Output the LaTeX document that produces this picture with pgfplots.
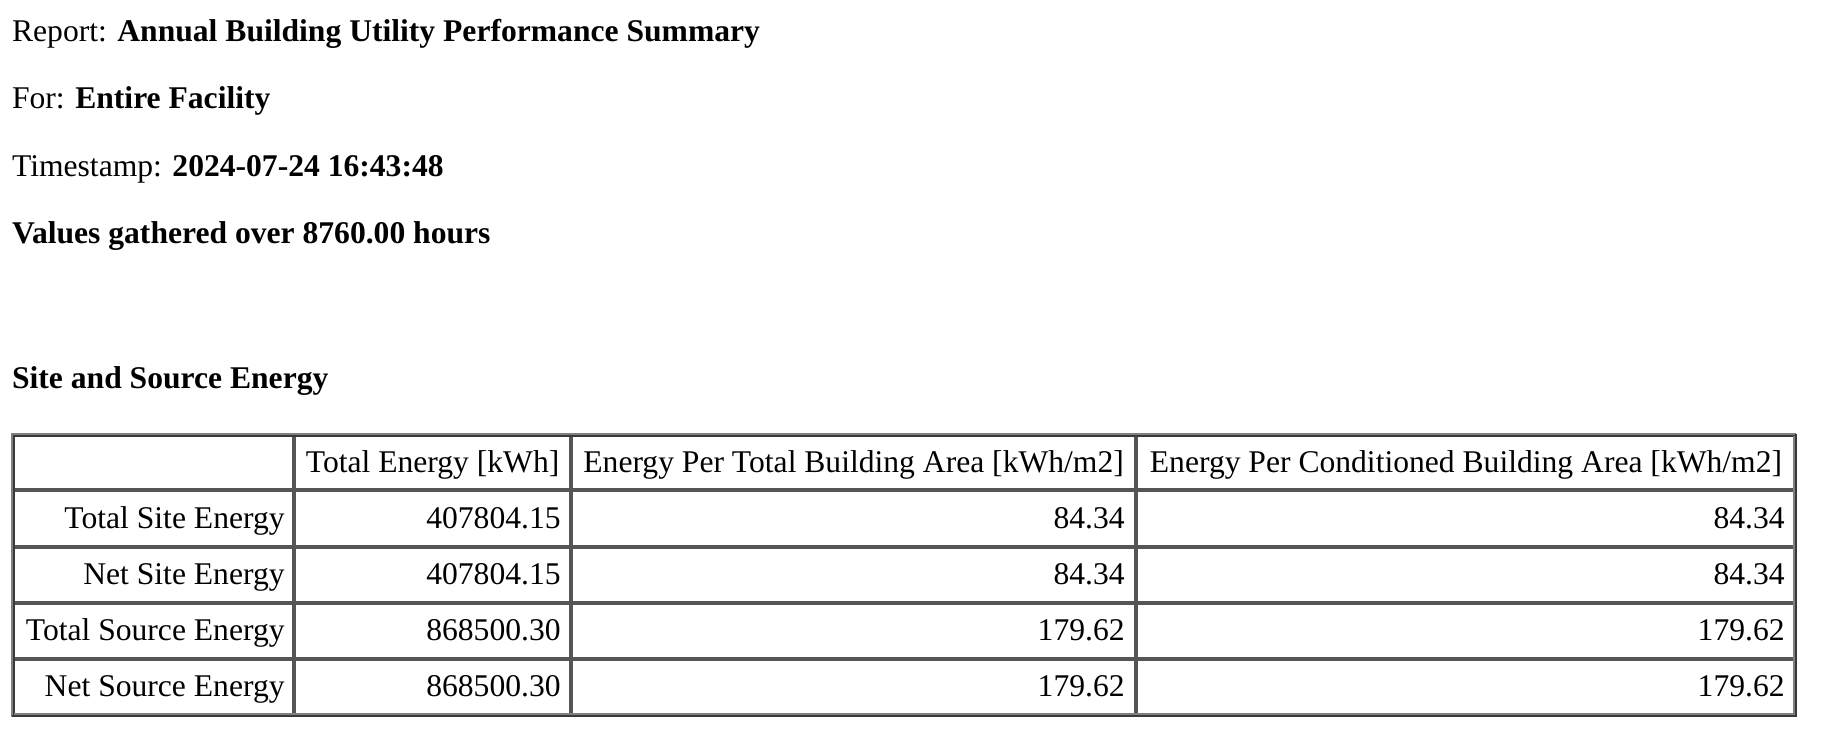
\documentclass[border=0pt]{standalone}
\usepackage{pgfplots}
\pgfplotsset{compat=1.18}
\usepackage{fontspec}
\setmainfont{Liberation Serif}
\definecolor{lightborder}{HTML}{808080}
\definecolor{darkborder}{HTML}{3A3A3A}
\definecolor{midborder}{HTML}{555555}
\begin{document}
\begin{tikzpicture}[font=\fontsize{15.8pt}{19pt}\selectfont]
\begin{axis}[
  scale only axis,
  width=915.5pt, height=373pt,
  xmin=0, xmax=1831, ymin=0, ymax=746,
  y dir=reverse,
  hide axis,
  clip=false,
  every node near coord/.append style={anchor=base east, inner sep=0pt, font=\fontsize{15.8pt}{19pt}\selectfont, text=black},
]
% bounding box
\path (axis cs:0,0) rectangle (axis cs:1831,746);
% header texts
\node[anchor=base west, inner sep=0pt] at (axis cs:11.7,41) {Report: \textbf{Annual Building Utility Performance Summary}};
\node[anchor=base west, inner sep=0pt] at (axis cs:11.7,108) {For: \textbf{Entire Facility}};
\node[anchor=base west, inner sep=0pt] at (axis cs:11.7,176) {Timestamp: \textbf{2024-07-24 16:43:48}};
\node[anchor=base west, inner sep=0pt] at (axis cs:11.7,243) {\textbf{Values gathered over 8760.00 hours}};
\node[anchor=base west, inner sep=0pt] at (axis cs:11.7,388) {\textbf{Site and Source Energy}};
% interior grid lines
\addplot[midborder, line width=2pt] coordinates {(13,490) (1795,490)};
\addplot[midborder, line width=2pt] coordinates {(13,546.5) (1795,546.5)};
\addplot[midborder, line width=2pt] coordinates {(13,602.5) (1795,602.5)};
\addplot[midborder, line width=2pt] coordinates {(13,658.6) (1795,658.6)};
\addplot[midborder, line width=2pt] coordinates {(294.3,435) (294.3,715)};
\addplot[midborder, line width=2pt] coordinates {(571,435) (571,715)};
\addplot[midborder, line width=2pt] coordinates {(1136.2,435) (1136.2,715)};
% outer border (two-tone)
\addplot[lightborder, line width=1pt] coordinates {(12,717) (12,434) (1796,434)};
\addplot[darkborder, line width=1pt] coordinates {(14,716) (14,436) (1795,436)};
\addplot[darkborder, line width=1pt] coordinates {(12,716) (1796,716) (1796,434)};
\addplot[lightborder, line width=1pt] coordinates {(14,714) (1794,714) (1794,436)};
% column headers
\node[anchor=base, inner sep=0pt] at (axis cs:432.6,472) {Total Energy [kWh]};
\node[anchor=base, inner sep=0pt] at (axis cs:853.6,472) {Energy Per Total Building Area [kWh/m2]};
\node[anchor=base, inner sep=0pt] at (axis cs:1466,472) {Energy Per Conditioned Building Area [kWh/m2]};
% row labels
\node[anchor=base east, inner sep=0pt] at (axis cs:285,528) {Total Site Energy};
\node[anchor=base east, inner sep=0pt] at (axis cs:285,584) {Net Site Energy};
\node[anchor=base east, inner sep=0pt] at (axis cs:285,640) {Total Source Energy};
\node[anchor=base east, inner sep=0pt] at (axis cs:285,696) {Net Source Energy};
% values
\addplot[draw=none, mark=none, nodes near coords, point meta=explicit symbolic]
  coordinates {(561,528)[407804.15] (561,584)[407804.15] (561,640)[868500.30] (561,696)[868500.30]};
\addplot[draw=none, mark=none, nodes near coords, point meta=explicit symbolic]
  coordinates {(1125,528)[84.34] (1125,584)[84.34] (1125,640)[179.62] (1125,696)[179.62]};
\addplot[draw=none, mark=none, nodes near coords, point meta=explicit symbolic]
  coordinates {(1785,528)[84.34] (1785,584)[84.34] (1785,640)[179.62] (1785,696)[179.62]};
\end{axis}
\end{tikzpicture}
\end{document}
